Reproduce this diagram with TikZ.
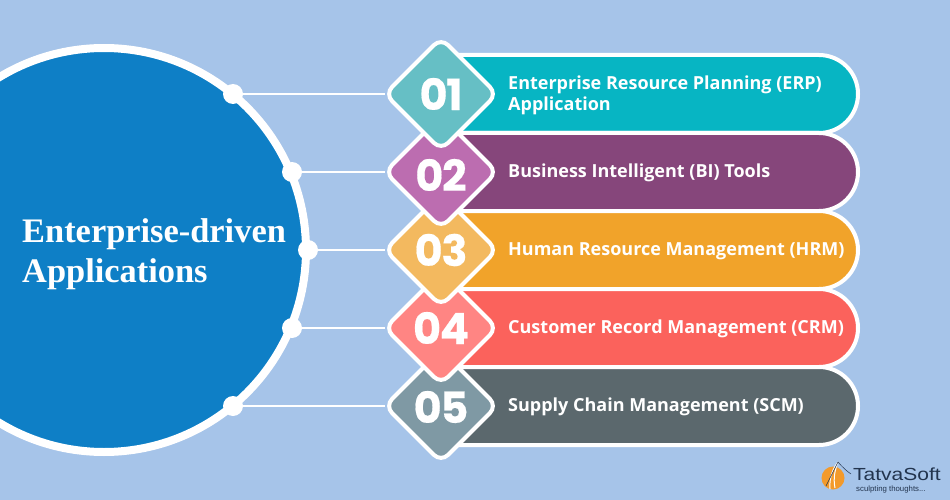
\documentclass[tikz,border=0pt]{standalone}
\usepackage{xcolor}
\usepackage{fontspec}
\setmainfont{Open Sans}
\newfontfamily\titlefont{Liberation Serif}
\newfontfamily\numfont{Poppins}[LetterSpace=-3, FakeBold=0.4]
\newfontfamily\logofont{Liberation Sans}[FakeStretch=1.2]
\newfontfamily\tagfont{Liberation Sans}
\usetikzlibrary{shapes.geometric, shapes.misc}
\definecolor{pagebg}{HTML}{A6C4E9}
\definecolor{hubblue}{HTML}{0E7FC6}
\definecolor{barone}{HTML}{07B5C3}
\definecolor{bartwo}{HTML}{86467B}
\definecolor{barthree}{HTML}{F1A32A}
\definecolor{barfour}{HTML}{FB625C}
\definecolor{barfive}{HTML}{5B686D}
\definecolor{gemone}{HTML}{66BFC5}
\definecolor{gemtwo}{HTML}{BC6DB0}
\definecolor{gemthree}{HTML}{F3B95F}
\definecolor{gemfour}{HTML}{FF8583}
\definecolor{gemfive}{HTML}{7F99A4}
\definecolor{logoorange}{HTML}{F39A2B}
\definecolor{logoink}{HTML}{22344E}
\tikzset{
    hub/.style={circle, draw=white, fill=hubblue, line width=8pt, minimum size=404pt, inner sep=0pt, outer sep=0pt},
    dot/.style={circle, fill=white, minimum size=20pt, inner sep=0pt, outer sep=0pt},
    wire/.style={draw=white, line width=1.5pt},
    bar/.style={rounded rectangle, rounded rectangle west arc=none, draw=white, fill=#1, line width=4pt, minimum width=403pt, minimum height=78pt, inner sep=0pt, outer sep=0pt, anchor=west},
    gem/.style={diamond, aspect=1, draw=white, fill=#1, line width=4pt, rounded corners=10pt, minimum size=112pt, inner sep=0pt, outer sep=0pt},
    gemnum/.style={text=white, inner sep=0pt, font=\numfont\bfseries\fontsize{43}{43}\selectfont},
    barlabel/.style={anchor=west, align=left, text=white, inner sep=0pt, font=\bfseries\fontsize{18}{21}\selectfont}
}
\begin{document}
\begin{tikzpicture}[x=1pt, y=-1pt]
    % Page
    \fill[pagebg] (0,0) rectangle (950,500);
    \useasboundingbox (0,0) rectangle (950,500);
    \clip (0,0) rectangle (950,500);

    % Big circle and its dots
    \node[hub] (hub) at (104,250) {};
    \node[dot] (dot1) at (233,94) {};
    \node[dot] (dot2) at (292,172) {};
    \node[dot] (dot3) at (308,250) {};
    \node[dot] (dot4) at (292,328) {};
    \node[dot] (dot5) at (233,406) {};
    \node[anchor=west, align=left, text=white, inner sep=0pt, font=\titlefont\bfseries\fontsize{34.4}{40}\selectfont] (title) at (22,254) {Enterprise-driven\\Applications};

    % Bars
    \node[bar=barone] (bar1) at (455,94) {};
    \node[bar=bartwo] (bar2) at (455,172) {};
    \node[bar=barthree] (bar3) at (455,250) {};
    \node[bar=barfour] (bar4) at (455,328) {};
    \node[bar=barfive] (bar5) at (455,406) {};

    % Diamonds, lowest first
    \node[gem=gemfive] (gem5) at (441,406) {};
    \node[gem=gemfour] (gem4) at (441,328) {};
    \node[gem=gemthree] (gem3) at (441,250) {};
    \node[gem=gemtwo] (gem2) at (441,172) {};
    \node[gem=gemone] (gem1) at (441,94) {};

    % Numbers
    \node[gemnum] (num1) at (441,94) {01};
    \node[gemnum] (num2) at (441,175) {02};
    \node[gemnum] (num3) at (441,250) {03};
    \node[gemnum] (num4) at (441,328) {04};
    \node[gemnum] (num5) at (441,407) {05};

    % Connectors
    \draw[wire] (dot1) -- (gem1);
    \draw[wire] (dot2) -- (gem2);
    \draw[wire] (dot3) -- (gem3);
    \draw[wire] (dot4) -- (gem4);
    \draw[wire] (dot5) -- (gem5);

    % Bar texts
    \node[barlabel] (label1) at (508,95) {Enterprise Resource Planning (ERP)\\Application};
    \node[barlabel] (label2) at (508,173) {Business Intelligent (BI) Tools};
    \node[barlabel] (label3) at (508,251) {Human Resource Management (HRM)};
    \node[barlabel] (label4) at (508,329) {Customer Record Management (CRM)};
    \node[barlabel] (label5) at (508,407) {Supply Chain Management (SCM)};

    % Logo
    \fill[logoorange] (833,478) circle (11.5);
    \draw[white, line width=1pt] (830,489) .. controls (829,478) and (833,468) .. (838,462);
    \draw[white, line width=1pt] (835,488) .. controls (833,478) and (835,470) .. (838,462);
    \draw[logoink, line width=0.5pt] (838,462) .. controls (843,468) and (848,472) .. (851,474);
    \draw[logoink, line width=0.5pt] (838,462) -- (826,486);
    \node[anchor=west, inner sep=0pt, text=logoink, font=\logofont\fontsize{17.5}{17.5}\selectfont] (logoname) at (853,474.5) {TatvaSoft};
    \node[anchor=west, inner sep=0pt, text=logoink, font=\tagfont\fontsize{7.8}{7.8}\selectfont] (logotag) at (856,489) {sculpting thoughts...};
\end{tikzpicture}
\end{document}
